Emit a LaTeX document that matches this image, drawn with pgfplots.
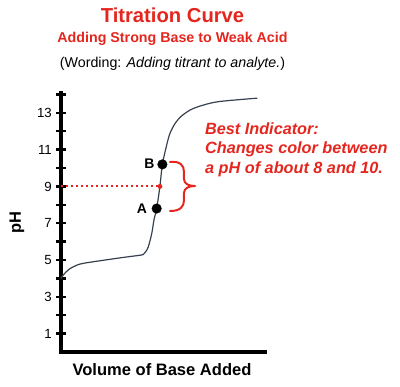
\documentclass[border=0pt]{standalone}
\usepackage{fontspec}
\setmainfont{Liberation Sans}
\usepackage{pgfplots}
\pgfplotsset{compat=1.18}
\definecolor{tred}{RGB}{228,38,30}
\definecolor{curve}{RGB}{55,65,78}
\begin{document}
\begin{tikzpicture}
\begin{axis}[
  at={(0,0)}, anchor=south west,
  scale only axis, width=204bp, height=259bp,
  xmin=0, xmax=10, ymin=0, ymax=14.08,
  axis lines=left,
  axis line style={-, line width=3.2bp, black, line cap=rect},
  xtick=\empty,
  ytick={1,3,...,13},
  minor ytick={2,4,...,14},
  tick align=center,
  major tick length=9bp, minor tick length=9bp,
  every tick/.style={black, line width=2.4bp},
  yticklabel style={font=\fontsize{13.3}{13.3}\selectfont, inner sep=2bp, xshift=-2.5bp},
  /pgf/number format/assume math mode=true,
  clip=false,
]
\addplot[curve, line width=1.2bp, smooth] coordinates {
(0,4.0) (0.11,4.18) (0.4,4.5) (0.93,4.78) (1.91,4.96) (3.04,5.14) (3.8,5.25)
(4.03,5.30) (4.15,5.45) (4.28,5.72) (4.45,6.45) (4.56,7.2) (4.69,7.8)
(4.85,9.02) (4.97,10.2) (5.18,11.25) (5.34,11.88) (5.59,12.42) (5.92,12.84)
(6.41,13.2) (7.06,13.45) (7.79,13.62) (9.62,13.8)};
\addplot[tred, line width=2bp, dash pattern=on 2.4bp off 2.6bp] coordinates {(0,9) (4.8,9)};
\addplot[only marks, mark=*, mark size=2.2bp, tred, mark options={draw=tred, fill=tred}] coordinates {(4.85,9)};
\addplot[only marks, mark=*, mark size=4.8bp, black] coordinates {(4.69,7.8) (4.97,10.2)};
\end{axis}
\begin{scope}[x=1bp, y=-1bp, shift={(-61bp,352bp)}]
  \node[anchor=base, text=tred, font=\bfseries\fontsize{20.3}{20.3}\selectfont] at (172.5,22.7) {Titration Curve};
  \node[anchor=base, text=tred, font=\bfseries\fontsize{14.3}{14.3}\selectfont] at (172.5,42.7) {Adding Strong Base to Weak Acid};
  \node[anchor=base, font=\fontsize{14.3}{14.3}\selectfont] at (172.5,67) {(Wording: \textit{Adding titrant to analyte.})};
  \node[anchor=base, font=\bfseries\fontsize{16.6}{16.6}\selectfont] at (162,375.7) {Volume of Base Added};
  \node[rotate=90, font=\bfseries\fontsize{16.5}{16.5}\selectfont] at (17,223) {pH};
  \node[font=\bfseries\fontsize{14}{14}\selectfont] at (149.5,164) {B};
  \node[font=\bfseries\fontsize{14}{14}\selectfont] at (142,209) {A};
  \draw[tred, line width=2bp, line cap=round, line join=round]
    (170,162) .. controls (180,161) and (184,165) .. (184,172) -- (184,179)
    .. controls (184,184) and (189,186) .. (195,186)
    .. controls (189,186) and (184,188) .. (184,193) -- (184,200)
    .. controls (184,207) and (180,211) .. (170,211);
  \node[anchor=base west, align=left, inner sep=0pt, text=tred,
        font=\bfseries\itshape\fontsize{16.3}{19.5}\selectfont] at (205,173.3)
    {Best Indicator:\\Changes color between\\a pH of about 8 and 10.};
  \pgfresetboundingbox
  \path[use as bounding box] (0,0) rectangle (400,387);
\end{scope}
\end{tikzpicture}
\end{document}
